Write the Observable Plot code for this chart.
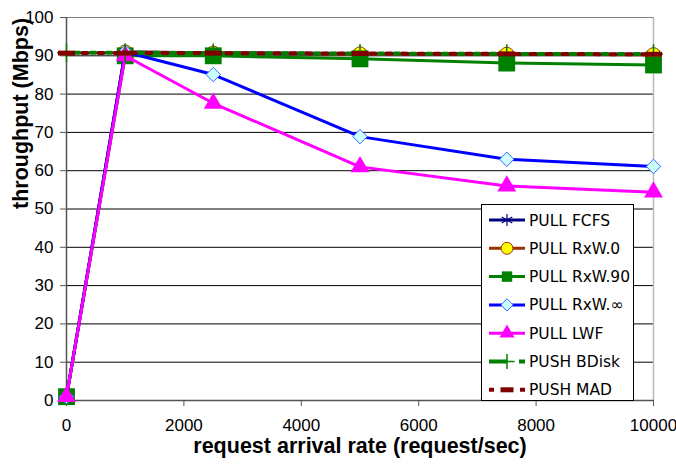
<!DOCTYPE html>
<html><head><meta charset="utf-8">
<script src="https://cdn.jsdelivr.net/npm/d3@7"></script>
<script src="https://cdn.jsdelivr.net/npm/@observablehq/plot@0.6"></script>
<style>body{margin:0;background:#fff}</style>
</head><body><div id="chart"></div>
<script>
// ---- data ----
const rates = [0, 1000, 2500, 5000, 7500, 10000];
const pullFCFS  = [1, 91.0, 90.8, 90.6, 90.5, 90.4];
const pullRxW0  = [1, 91.0, 90.7, 90.5, 90.4, 90.3];
const pullRxW90 = [1, 90.0, 90.0, 89.2, 88.1, 87.6];
const pullRxWInf= [1, 91.0, 85.1, 68.9, 63.0, 61.1];
const pullLWF   = [1, 90.0, 77.6, 61.0, 56.0, 54.4];
const pushBDisk = [90.8, 90.8, 90.7, 90.6, 90.5, 90.5];
const pushMAD   = [90.7, 90.7, 90.7, 90.6, 90.5, 90.4];
const seriesNames = ["PULL FCFS", "PULL RxW.0", "PULL RxW.90", "PULL RxW.\u221E", "PULL LWF", "PUSH BDisk", "PUSH MAD"];
const seriesValues = [pullFCFS, pullRxW0, pullRxW90, pullRxWInf, pullLWF, pushBDisk, pushMAD];
const xTicks = [0, 2000, 4000, 6000, 8000, 10000];
const yTicks = [0, 10, 20, 30, 40, 50, 60, 70, 80, 90, 100];
const xTitle = "request arrival rate (request/sec)";
const yTitle = "throughput (Mbps)";

// ---- styles ----
const dashSymbol = {draw(ctx) { ctx.rect(-8.5, -2.5, 17, 5); }};
const styles = [
  {line: "#000080", w: 3, sym: d3.symbolAsterisk, r: 6.8, fill: "none", stroke: "#000080", sw: 1.2},
  {line: "#993300", w: 3, sym: d3.symbolCircle, r: 7, fill: "#ffff00", stroke: "#993300", sw: 1},
  {line: "#008000", w: 3, sym: d3.symbolSquare, r: 9.5, fill: "#008000", stroke: "none", sw: 0},
  {line: "#0000ff", w: 3, sym: d3.symbolDiamond2, r: 6.5, fill: "#ccffff", stroke: "#3366ff", sw: 1},
  {line: "#ff00ff", w: 3, sym: d3.symbolTriangle, r: 7, fill: "#ff00ff", stroke: "none", sw: 0},
  {line: "#008000", w: 4, sym: d3.symbolPlus, r: 6.2, fill: "none", stroke: "#008000", sw: 1.5, dash: "5,11", off: 8, legendDash: "18,12,6"},
  {line: "#800000", w: 4, sym: dashSymbol, r: 6, fill: "#800000", stroke: "none", sw: 0, dash: "5,11", off: 0, legendDash: "5,26,5"}
];
const legendScale = [0.85, 0.85, 0.62, 0.85, 0.8, 0.8, 1];

const seriesMarks = [];
seriesValues.forEach((vals, i) => {
  const s = styles[i];
  const data = rates.map((x, j) => ({x, y: vals[j]}));
  seriesMarks.push(Plot.line(data, {x: "x", y: "y", stroke: s.line, strokeWidth: s.w,
    strokeDasharray: s.dash, strokeDashoffset: s.off}));
  seriesMarks.push(Plot.dot(data, {x: "x", y: "y", symbol: s.sym, r: s.r, fill: s.fill,
    stroke: s.stroke, strokeWidth: s.sw}));
});

const chart = Plot.plot({
  width: 676, height: 466,
  marginTop: 17, marginRight: 23, marginBottom: 66, marginLeft: 66,
  style: {fontFamily: "'Liberation Sans', Arial, sans-serif", fontSize: "17px", background: "white", color: "black"},
  x: {domain: [0, 10000], label: null},
  y: {domain: [0, 100], label: null},
  marks: [
    Plot.gridY(yTicks.filter(d => d > 0 && d < 100), {stroke: "black", strokeOpacity: 1, strokeWidth: 1}),
    Plot.ruleY([100], {stroke: "#808080", strokeWidth: 1}),
    Plot.ruleX([10000], {stroke: "#b8b8b8", strokeWidth: 1.5}),
    Plot.ruleX([0], {stroke: "#555555", strokeWidth: 1.5}),
    Plot.ruleY([0], {stroke: "#555555", strokeWidth: 1.5}),
    Plot.axisY({ticks: yTicks, tickSize: 6, tickPadding: 7, stroke: "#555555", tickFormat: d => String(d), label: null}),
    Plot.axisX({ticks: xTicks, tickSize: 6, tickPadding: 12, stroke: "#555555", tickFormat: d => String(d), label: null}),
    Plot.text([xTitle], {frameAnchor: "bottom", dy: 52, text: d => d, fontWeight: "bold", fontSize: 21.5, fill: "black"}),
    Plot.text([yTitle], {frameAnchor: "left", dx: -45, rotate: -90, text: d => d, fontWeight: "bold", fontSize: 21.5, fill: "black"}),
    ...seriesMarks
  ]
});
document.getElementById("chart").appendChild(chart);

// ---- legend (inside plot area) ----
const svg = d3.select(chart);
const lg = svg.append("g").attr("text-anchor", "start");
lg.append("rect").attr("x", 481.5).attr("y", 204.5).attr("width", 152).attr("height", 196)
  .attr("fill", "white").attr("stroke", "black").attr("stroke-width", 1);
seriesNames.forEach((name, i) => {
  const s = styles[i];
  const cy = 220 + i * 28.3;
  lg.append("line").attr("x1", 489).attr("x2", 525).attr("y1", cy).attr("y2", cy)
    .attr("stroke", s.line).attr("stroke-width", s.w)
    .attr("stroke-dasharray", s.legendDash || null);
  const size = Math.PI * Math.pow(s.r * legendScale[i], 2);
  const symObj = s.sym === dashSymbol ? {draw(ctx) { ctx.rect(-6.5, -2.5, 13, 5); }} : s.sym;
  lg.append("path").attr("transform", `translate(507,${cy})`)
    .attr("d", d3.symbol(symObj, size)())
    .attr("fill", s.fill).attr("stroke", s.stroke === "none" ? null : s.stroke)
    .attr("stroke-width", s.sw || null);
  lg.append("text").attr("x", 529).attr("y", cy).attr("dy", "0.36em")
    .attr("text-anchor", "start")
    .attr("font-family", "'DejaVu Sans', Verdana, sans-serif").attr("font-size", 15.5)
    .attr("fill", "black").text(name);
});
</script></body></html>
